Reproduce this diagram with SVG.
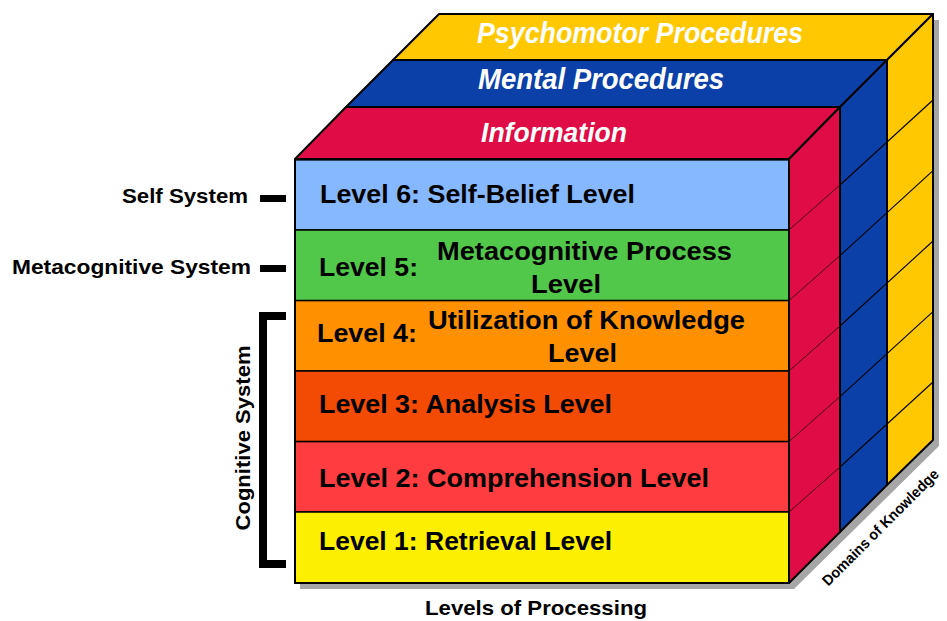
<svg xmlns="http://www.w3.org/2000/svg" width="947" height="621" viewBox="0 0 947 621">
<style>
.edge{stroke:#000;stroke-width:2;stroke-linejoin:round}
.row{stroke:#000;stroke-width:1.5}
.grid{stroke:#000;stroke-width:1.1;fill:none}
.gridr{stroke:#4a0010;stroke-width:1;fill:none}
.top{font-family:"Liberation Sans",Arial,sans-serif;font-weight:bold;font-style:italic;fill:#fff;font-size:29px}
.lvl{font-family:"Liberation Sans",Arial,sans-serif;font-weight:bold;fill:#000;font-size:25px}
.lab{font-family:"Liberation Sans",Arial,sans-serif;font-weight:bold;fill:#000;font-size:21px}
</style>
<rect width="947" height="621" fill="#fff"/>
<g id="shadow">
<polygon points="300,165 444,20 939,20 939,446 794,589 300,589" fill="#a6a6a6"/>
</g>
<g id="slab-psychomotor">
<polygon class="edge" points="393,60 887,60 933,14 439,14" fill="#FFC800"/>
<polygon class="edge" points="887,60 933,14 933,440 887,485" fill="#FFC800"/>
<text class="top" x="477" y="43" textLength="326" lengthAdjust="spacingAndGlyphs">Psychomotor Procedures</text>
</g>
<g id="slab-mental">
<polygon class="edge" points="346,107 840,107 887,60 393,60" fill="#0A40A8"/>
<polygon class="edge" points="840,107 887,60 887,485 840,532" fill="#0A40A8"/>
<text class="top" x="478" y="89" textLength="246" lengthAdjust="spacingAndGlyphs">Mental Procedures</text>
</g>
<g id="slab-information">
<polygon class="edge" points="295,159 789,159 840,107 346,107" fill="#DF0C45"/>
<polygon class="edge" points="789,159 840,107 840,532 789,583" fill="#DF0C45"/>
<text class="top" style="font-size:27px" x="481" y="142" textLength="146" lengthAdjust="spacingAndGlyphs">Information</text>
</g>
<g id="connectors">
<g class="gridr">
<line x1="789" y1="230" x2="840" y2="185"/>
<line x1="789" y1="300.6" x2="840" y2="255.6"/>
<line x1="789" y1="371" x2="840" y2="326"/>
<line x1="789" y1="441.6" x2="840" y2="396.6"/>
<line x1="789" y1="512" x2="840" y2="467"/>
</g>
<g class="grid">
<line x1="840" y1="185" x2="933" y2="100"/>
<line x1="840" y1="255.6" x2="933" y2="170.6"/>
<line x1="840" y1="326" x2="933" y2="241"/>
<line x1="840" y1="396.6" x2="933" y2="311.6"/>
<line x1="840" y1="467" x2="933" y2="382"/>
</g>
</g>
<g id="level6">
<rect class="row" x="295" y="159.5" width="494" height="70.5" fill="#86B8FF"/>
<text class="lvl" x="320" y="203" textLength="315" lengthAdjust="spacingAndGlyphs">Level 6: Self-Belief Level</text>
</g>
<g id="level5">
<rect class="row" x="295" y="230" width="494" height="70.6" fill="#52C84B"/>
<text class="lvl" x="319" y="276" textLength="99" lengthAdjust="spacingAndGlyphs">Level 5:</text>
<text class="lvl" x="437" y="260" textLength="295" lengthAdjust="spacingAndGlyphs">Metacognitive Process</text>
<text class="lvl" x="531" y="293" textLength="70" lengthAdjust="spacingAndGlyphs">Level</text>
</g>
<g id="level4">
<rect class="row" x="295" y="300.6" width="494" height="70.4" fill="#FF9100"/>
<text class="lvl" x="317" y="342" textLength="100" lengthAdjust="spacingAndGlyphs">Level 4:</text>
<text class="lvl" x="428" y="329" textLength="317" lengthAdjust="spacingAndGlyphs">Utilization of Knowledge</text>
<text class="lvl" x="548" y="362" textLength="69" lengthAdjust="spacingAndGlyphs">Level</text>
</g>
<g id="level3">
<rect class="row" x="295" y="371" width="494" height="70.6" fill="#F34A04"/>
<text class="lvl" x="319" y="413" textLength="293" lengthAdjust="spacingAndGlyphs">Level 3: Analysis Level</text>
</g>
<g id="level2">
<rect class="row" x="295" y="441.6" width="494" height="70.4" fill="#FF3C3F"/>
<text class="lvl" x="319" y="487" textLength="390" lengthAdjust="spacingAndGlyphs">Level 2: Comprehension Level</text>
</g>
<g id="level1">
<rect class="row" x="295" y="512" width="494" height="71" fill="#FCEF00"/>
<text class="lvl" x="319" y="550" textLength="293" lengthAdjust="spacingAndGlyphs">Level 1: Retrieval Level</text>
</g>
<rect x="295" y="159.5" width="494" height="423.5" fill="none" stroke="#000" stroke-width="2"/>
<g id="self-system">
<text class="lab" x="122" y="203" textLength="126" lengthAdjust="spacingAndGlyphs">Self System</text>
<rect x="260" y="195" width="26" height="7" fill="#000"/>
</g>
<g id="metacognitive-system">
<text class="lab" x="12" y="274" textLength="239" lengthAdjust="spacingAndGlyphs">Metacognitive System</text>
<rect x="260" y="265" width="26" height="7" fill="#000"/>
</g>
<g id="cognitive-system">
<path d="M286,316 H263 V564 H286" fill="none" stroke="#000" stroke-width="8"/>
<text class="lab" x="0" y="0" text-anchor="middle" transform="translate(250,438) rotate(-90)" textLength="185" lengthAdjust="spacingAndGlyphs">Cognitive System</text>
</g>
<g id="levels-of-processing">
<text class="lab" x="536" y="615" text-anchor="middle" textLength="222" lengthAdjust="spacingAndGlyphs">Levels of Processing</text>
</g>
<g id="domains-of-knowledge">
<text class="lab" style="font-size:15px" x="0" y="0" text-anchor="middle" transform="translate(884,531) rotate(-45)" textLength="158" lengthAdjust="spacingAndGlyphs">Domains of Knowledge</text>
</g>
</svg>
